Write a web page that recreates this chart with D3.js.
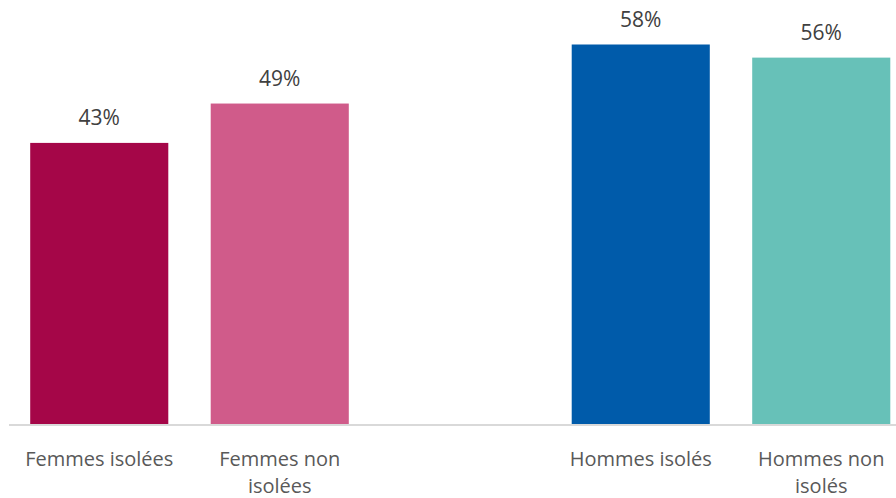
<!DOCTYPE html>
<html><head><meta charset="utf-8">
<script src="https://cdn.jsdelivr.net/npm/d3@7"></script>
<style>body{margin:0;background:#fff}</style>
</head><body>
<svg id="c" width="896" height="498"></svg>
<script>
const categories = ["Femmes isolées", "Femmes non isolées", "", "Hommes isolés", "Hommes non isolés"];
const labelLines = [["Femmes isolées"], ["Femmes non", "isolées"], [], ["Hommes isolés"], ["Hommes non", "isolés"]];
const values = [43, 49, null, 58, 56];
const colors = ["#A50648", "#D05B8A", null, "#005BAA", "#67C1B8"];

const svg = d3.select("#c");
const keys = categories.map((c, i) => i);
const x = d3.scaleBand().domain(keys).range([9, 911.5]).paddingInner(0.235).paddingOuter(0.1175);
const y = d3.scaleLinear().domain([0, 58]).range([425, 44.5]);
const font = "'Open Sans', sans-serif";

const data = keys.filter(i => values[i] != null);

svg.selectAll("rect.bar").data(data).join("rect")
  .attr("x", i => x(i)).attr("width", x.bandwidth())
  .attr("y", i => y(values[i])).attr("height", i => y(0) - y(values[i]))
  .attr("fill", i => colors[i]);

svg.append("line").attr("x1", 9).attr("x2", 896).attr("y1", 425).attr("y2", 425)
  .attr("stroke", "#D9D9D9").attr("stroke-width", 2);

svg.selectAll("text.val").data(data).join("text")
  .attr("x", i => x(i) + x.bandwidth() / 2).attr("y", i => y(values[i]) - 18)
  .attr("text-anchor", "middle").attr("font-family", font).attr("font-size", 21)
  .attr("fill", "#404040").text(i => values[i] + "%");

const lab = svg.selectAll("text.cat").data(keys).join("text")
  .attr("text-anchor", "middle").attr("font-family", font).attr("font-size", 20)
  .attr("fill", "#595959");
lab.each(function(i) {
  const t = d3.select(this);
  labelLines[i].forEach((ln, j) => {
    t.append("tspan").attr("x", x(i) + x.bandwidth() / 2).attr("y", 466 + j * 27).text(ln);
  });
});
</script>
</body></html>
